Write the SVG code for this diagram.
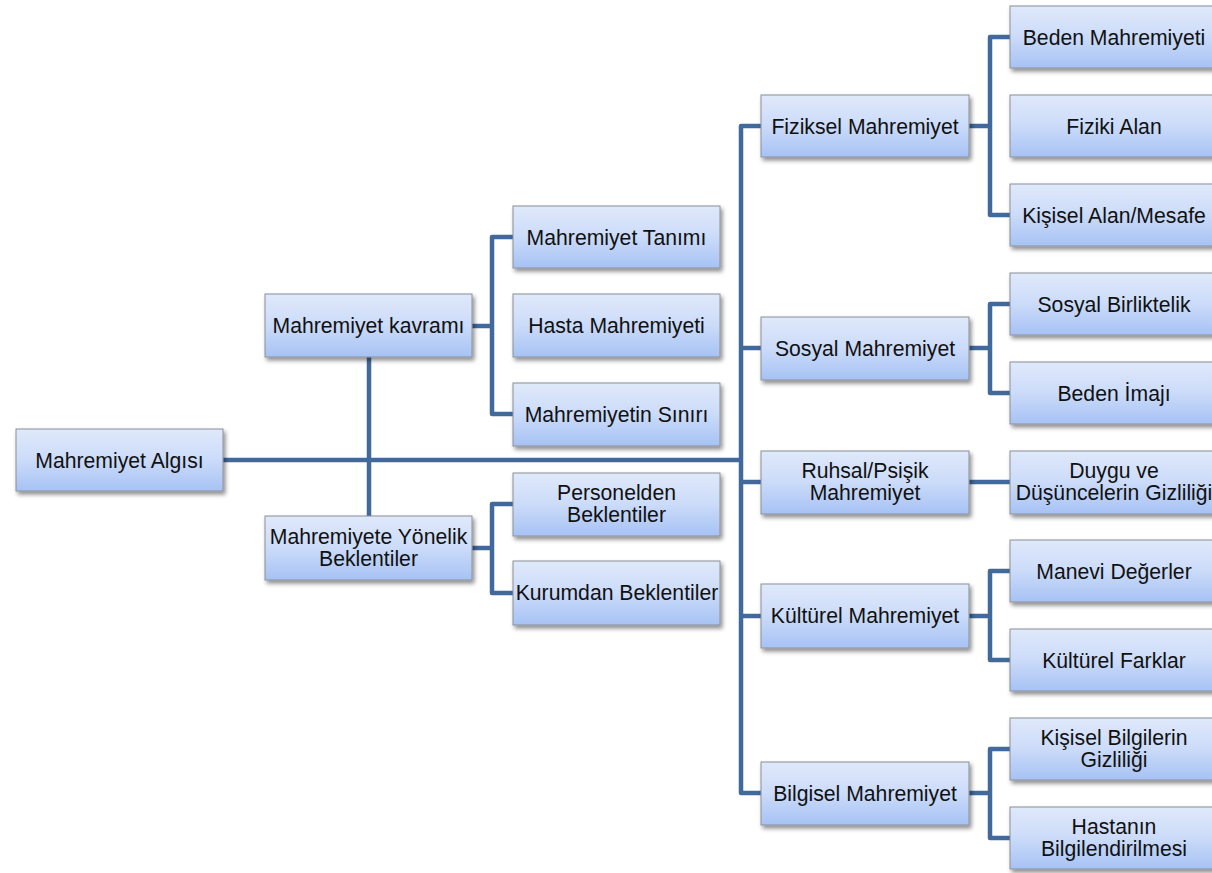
<svg xmlns="http://www.w3.org/2000/svg" width="1212" height="873" viewBox="0 0 1212 873">
  <style>
    .box { fill: url(#boxFill); stroke: #8a8f98; stroke-width: 1; filter: url(#shadow); }
    .lbl { font-family: "Liberation Sans", Arial, sans-serif; font-size: 21.2px; fill: #111; text-anchor: middle; }
    .wire { fill: none; stroke: #41699c; stroke-width: 4.5; stroke-linejoin: round; stroke-linecap: butt; }
  </style>
  <defs>
    <linearGradient id="boxFill" x1="0" y1="0" x2="0" y2="1">
      <stop offset="0" stop-color="#e0e9fb"/>
      <stop offset="0.5" stop-color="#cbdbf9"/>
      <stop offset="1" stop-color="#a6c2f4"/>
    </linearGradient>
    <filter id="shadow" x="-10%" y="-20%" width="125%" height="150%">
      <feDropShadow dx="2" dy="3" stdDeviation="2" flood-color="#000" flood-opacity="0.45"/>
    </filter>
  </defs>
  <rect width="1212" height="873" fill="#fff"/>

  <!-- connectors -->
  <g id="connectors" class="wire">
    <path d="M223 460 H741"/>
    <path d="M369 357 V516"/>
    <path d="M472 326 H492 M513 237 H492 V414 H513"/>
    <path d="M472 548 H492 M513 504 H492 V593 H513"/>
    <path d="M761 126 H741 V793 H761 M741 348 H761 M741 482 H761 M741 616 H761"/>
    <path d="M969 126 H990 M1010 37 H990 V215 H1010"/>
    <path d="M969 348 H990 M1010 304 H990 V393 H1010"/>
    <path d="M969 482 H1010"/>
    <path d="M969 616 H990 M1010 571 H990 V660 H1010"/>
    <path d="M969 793 H990 M1010 749 H990 V838 H1010"/>
  </g>

  <!-- root -->
  <g id="n-algisi"><rect class="box" x="16" y="429" width="207" height="62"/><text class="lbl" x="119.5" y="467.5">Mahremiyet Algısı</text></g>

  <!-- level 1 left -->
  <g id="n-kavrami"><rect class="box" x="265" y="294" width="207" height="63"/><text class="lbl" x="368.5" y="333">Mahremiyet kavramı</text></g>
  <g id="n-beklentiler"><rect class="box" x="265" y="516" width="207" height="64"/><text class="lbl" x="368.5" y="544">Mahremiyete Yönelik</text><text class="lbl" x="368.5" y="566">Beklentiler</text></g>

  <!-- level 2 left -->
  <g id="n-tanimi"><rect class="box" x="513" y="206" width="207" height="62"/><text class="lbl" x="616.5" y="244.5">Mahremiyet Tanımı</text></g>
  <g id="n-hasta"><rect class="box" x="513" y="294" width="207" height="63"/><text class="lbl" x="616.5" y="333">Hasta Mahremiyeti</text></g>
  <g id="n-siniri"><rect class="box" x="513" y="383" width="207" height="63"/><text class="lbl" x="616.5" y="422">Mahremiyetin Sınırı</text></g>
  <g id="n-personel"><rect class="box" x="513" y="473" width="207" height="63"/><text class="lbl" x="616.5" y="500">Personelden</text><text class="lbl" x="616.5" y="522">Beklentiler</text></g>
  <g id="n-kurum"><rect class="box" x="513" y="561" width="207" height="64"/><text class="lbl" x="617" y="600">Kurumdan Beklentiler</text></g>

  <!-- level 1 right -->
  <g id="n-fiziksel"><rect class="box" x="761" y="95" width="208" height="62"/><text class="lbl" x="865" y="133.5">Fiziksel Mahremiyet</text></g>
  <g id="n-sosyal"><rect class="box" x="761" y="317" width="208" height="63"/><text class="lbl" x="865" y="356">Sosyal Mahremiyet</text></g>
  <g id="n-ruhsal"><rect class="box" x="761" y="451" width="208" height="63"/><text class="lbl" x="865" y="478">Ruhsal/Psişik</text><text class="lbl" x="865" y="500">Mahremiyet</text></g>
  <g id="n-kulturel"><rect class="box" x="761" y="584" width="208" height="64"/><text class="lbl" x="865" y="623">Kültürel Mahremiyet</text></g>
  <g id="n-bilgisel"><rect class="box" x="761" y="762" width="208" height="63"/><text class="lbl" x="865" y="801">Bilgisel Mahremiyet</text></g>

  <!-- level 2 right -->
  <g id="n-beden"><rect class="box" x="1010" y="6" width="208" height="62"/><text class="lbl" x="1114" y="44.5">Beden Mahremiyeti</text></g>
  <g id="n-fiziki"><rect class="box" x="1010" y="95" width="208" height="62"/><text class="lbl" x="1114" y="133.5">Fiziki Alan</text></g>
  <g id="n-kisisel-alan"><rect class="box" x="1010" y="184" width="208" height="62"/><text class="lbl" x="1114" y="222.5">Kişisel Alan/Mesafe</text></g>
  <g id="n-birliktelik"><rect class="box" x="1010" y="273" width="208" height="62"/><text class="lbl" x="1114" y="311.5">Sosyal Birliktelik</text></g>
  <g id="n-imaji"><rect class="box" x="1010" y="362" width="208" height="62"/><text class="lbl" x="1114" y="400.5">Beden İmajı</text></g>
  <g id="n-duygu"><rect class="box" x="1010" y="451" width="208" height="63"/><text class="lbl" x="1114" y="478">Duygu ve</text><text class="lbl" x="1114" y="500">Düşüncelerin Gizliliği</text></g>
  <g id="n-manevi"><rect class="box" x="1010" y="540" width="208" height="62"/><text class="lbl" x="1114" y="578.5">Manevi Değerler</text></g>
  <g id="n-farklar"><rect class="box" x="1010" y="629" width="208" height="62"/><text class="lbl" x="1114" y="667.5">Kültürel Farklar</text></g>
  <g id="n-kisisel-bilgi"><rect class="box" x="1010" y="718" width="208" height="62"/><text class="lbl" x="1114" y="745">Kişisel Bilgilerin</text><text class="lbl" x="1114" y="767">Gizliliği</text></g>
  <g id="n-hastanin"><rect class="box" x="1010" y="807" width="208" height="62"/><text class="lbl" x="1114" y="834">Hastanın</text><text class="lbl" x="1114" y="856">Bilgilendirilmesi</text></g>
</svg>
